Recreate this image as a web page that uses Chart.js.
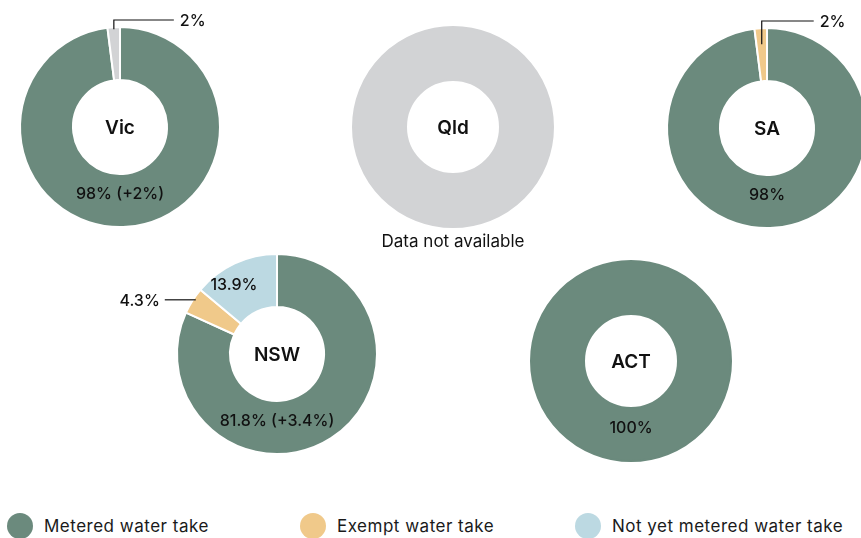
<!DOCTYPE html>
<html>
<head>
<meta charset="utf-8">
<script src="https://cdn.jsdelivr.net/npm/chart.js@4.4.1/dist/chart.umd.min.js"></script>
<style>
  html, body { margin: 0; padding: 0; background: #fff; }
  body { width: 861px; height: 538px; position: relative; overflow: hidden; font-family: Inter, "Noto Sans", sans-serif; }
  .donut { position: absolute; width: 400px; height: 280px; }
  .legend { position: absolute; top: 513px; left: 0; width: 861px; height: 26px; }
  .legend-item { position: absolute; top: 0; height: 26px; display: flex; align-items: center; font-size: 17px; letter-spacing: 0.5px; color: #1a1a1a; }
  .legend-item span.dot { width: 26px; height: 26px; border-radius: 50%; margin-right: 11px; }
</style>
</head>
<body>
<div class="legend" id="legend"></div>

<script>
// Data
const states = ["Vic", "Qld", "SA", "NSW", "ACT"];
const categories = ["Metered water take", "Exempt water take", "Not yet metered water take", "Data not available"];
const metered = [98, 0, 98, 81.8, 100];
const exempt = [0, 0, 2, 4.3, 0];
const notYet = [0, 0, 0, 13.9, 0];
const unavailable = [2, 100, 0, 0, 0];
const meteredLabels = ["98% (+2%)", "", "98%", "81.8% (+3.4%)", "100%"];
const notes = ["", "Data not available", "", "", ""];

const colors = ["#6b8a7d", "#f0c98a", "#bcd9e2", "#d2d3d5"];

// placement of each donut (centre in page pixels) and how small slices get labelled
const centres = [[120, 127], [453, 127], [767, 128], [277, 354], [631, 361]];
const callouts = [
  [{ index: 3, style: "up", len: 60, depth: 2 }],
  [],
  [{ index: 1, style: "up", len: 52, depth: 16 }],
  [{ index: 1, style: "left" }, { index: 2, style: "inside" }],
  []
];

const W = 400, H = 280, SIZE = 202;

// plugin for the text in/around each donut
const donutLabels = {
  id: "donutLabels",
  afterDatasetsDraw(chart, args, opts) {
    const ctx = chart.ctx;
    const meta = chart.getDatasetMeta(0);
    const a0 = meta.data[0];
    const cx = a0.x, cy = a0.y, outer = a0.outerRadius;
    const values = chart.data.datasets[0].data;
    ctx.save();
    ctx.fillStyle = "#111";
    ctx.textAlign = "center";
    ctx.textBaseline = "middle";

    ctx.font = "600 19px Inter";
    ctx.fillText(opts.name, cx, cy + 1);

    if (opts.main) {
      ctx.font = "500 16px Inter";
      ctx.fillText(opts.main, cx, cy + 67);
    }
    if (opts.note) {
      ctx.font = "400 17px Inter";
      ctx.fillText(opts.note, cx, cy + 115);
    }

    ctx.strokeStyle = "#111";
    ctx.lineWidth = 1.2;
    opts.callouts.forEach(c => {
      const arc = meta.data[c.index];
      const mid = (arc.startAngle + arc.endAngle) / 2;
      const text = values[c.index] + "%";
      ctx.font = "500 16px Inter";
      if (c.style === "up") {
        const r = outer - c.depth;
        const x = cx + Math.cos(mid) * r;
        const y = cy + Math.sin(mid) * r;
        const topY = cy - outer - 7;
        ctx.beginPath();
        ctx.moveTo(x, y);
        ctx.lineTo(x, topY);
        ctx.lineTo(x + c.len, topY);
        ctx.stroke();
        ctx.textAlign = "left";
        ctx.fillText(text, x + c.len + 6, topY + 1);
      } else if (c.style === "left") {
        const r = outer - 4;
        const x = cx + Math.cos(mid) * r;
        const y = cy + Math.sin(mid) * r - 3;
        ctx.beginPath();
        ctx.moveTo(x, y);
        ctx.lineTo(x - 31, y);
        ctx.stroke();
        ctx.textAlign = "right";
        ctx.fillText(text, x - 36, y + 1);
      } else {
        const p = arc.tooltipPosition();
        ctx.textAlign = "center";
        ctx.fillText(text, p.x - 12, p.y - 2);
      }
    });
    ctx.restore();
  }
};

states.forEach((st, i) => {
  const div = document.createElement("div");
  div.className = "donut";
  div.style.left = (centres[i][0] - W / 2) + "px";
  div.style.top = (centres[i][1] - H / 2) + "px";
  const canvas = document.createElement("canvas");
  canvas.width = W;
  canvas.height = H;
  div.appendChild(canvas);
  document.body.appendChild(div);

  const vals = [metered[i], exempt[i], notYet[i], unavailable[i]];
  const total = vals.reduce((a, b) => a + b, 0);

  new Chart(canvas, {
    type: "doughnut",
    data: {
      labels: categories,
      datasets: [{
        data: vals,
        backgroundColor: colors,
        // no white seam when one slice fills the whole ring
        borderColor: vals.map((v, k) => v === total ? colors[k] : "#fff"),
        borderWidth: 2,
        hoverOffset: 0
      }]
    },
    options: {
      responsive: false,
      devicePixelRatio: 1,
      animation: false,
      cutout: "47%",
      layout: { padding: { left: (W - SIZE) / 2, right: (W - SIZE) / 2, top: (H - SIZE) / 2, bottom: (H - SIZE) / 2 } },
      plugins: {
        legend: { display: false },
        tooltip: { enabled: false },
        donutLabels: { name: st, main: meteredLabels[i], note: notes[i], callouts: callouts[i] }
      }
    },
    plugins: [donutLabels]
  });
});

// legend (first three categories)
const legendX = [7, 300, 575];
const legend = document.getElementById("legend");
categories.slice(0, 3).forEach((cat, i) => {
  const item = document.createElement("div");
  item.className = "legend-item";
  item.style.left = legendX[i] + "px";
  item.innerHTML = '<span class="dot" style="background:' + colors[i] + '"></span>' + cat;
  legend.appendChild(item);
});
</script>
</body>
</html>
